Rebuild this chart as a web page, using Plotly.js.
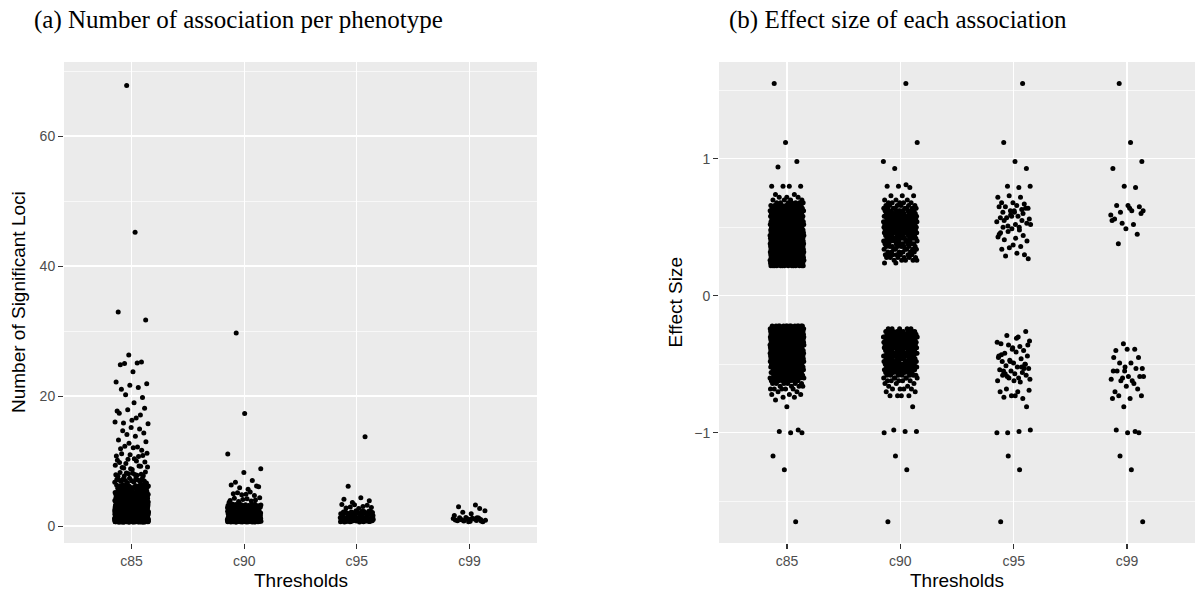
<!DOCTYPE html>
<html>
<head>
<meta charset="utf-8">
<script src="https://cdn.plot.ly/plotly-3.0.1.min.js"></script>
<style>html,body{margin:0;padding:0;background:#fff;}#chart{width:1195px;height:594px;}</style>
</head>
<body>
<div id="chart"></div>
<script>
// ---------- DATA ----------
const thresholds = ['c85', 'c90', 'c95', 'c99'];

// (a) number of significant loci per phenotype: loci value and how many phenotypes have it
const lociC85 = [1, 2, 3, 4, 5, 6, 7, 8, 9, 10, 11, 12, 13, 14, 15, 16, 17, 18, 19, 20, 21, 22, 24, 25, 26, 32, 33, 45, 68];
const countC85 = [330, 170, 105, 70, 45, 30, 16, 12, 8, 7, 6, 5, 3, 3, 3, 4, 3, 3, 1, 2, 2, 3, 1, 4, 1, 1, 1, 1, 1];
const lociC90 = [1, 2, 3, 4, 5, 6, 7, 8, 9, 11, 17, 30];
const countC90 = [150, 80, 45, 9, 6, 5, 2, 1, 1, 1, 1, 1];
const lociC95 = [1, 2, 3, 4, 6, 14];
const countC95 = [60, 28, 8, 4, 1, 1];
const lociC99 = [1, 2, 3];
const countC99 = [20, 4, 3];

// (b) effect size of each association: effect value and number of associations with it
const effC85 = [1.55, 1.12, 0.98, 0.94, 0.80, 0.74, 0.72, 0.70, 0.68, 0.66, 0.64, 0.62, 0.60, 0.58, 0.56, 0.54, 0.52, 0.50, 0.48, 0.46, 0.44, 0.42, 0.40, 0.38, 0.36, 0.34, 0.32, 0.30, 0.28, 0.26, 0.24, 0.22,
  -0.22, -0.24, -0.26, -0.28, -0.30, -0.32, -0.34, -0.36, -0.38, -0.40, -0.42, -0.44, -0.46, -0.48, -0.50, -0.52, -0.54, -0.56, -0.58, -0.60, -0.62, -0.64, -0.66, -0.68, -0.70, -0.72, -0.74, -0.76, -0.81, -0.98, -0.99, -1.00, -1.17, -1.27, -1.65];
const cntC85 = [1, 1, 1, 1, 4, 2, 3, 4, 7, 9, 10, 12, 14, 15, 16, 18, 20, 20, 22, 22, 24, 26, 26, 28, 28, 30, 30, 30, 28, 26, 22, 14,
  14, 24, 28, 30, 30, 30, 28, 28, 26, 26, 24, 22, 22, 20, 18, 16, 15, 14, 12, 10, 8, 6, 4, 5, 2, 3, 2, 1, 1, 1, 1, 2, 1, 1, 1];
const effC90 = [1.55, 1.12, 0.98, 0.93, 0.81, 0.80, 0.79, 0.73, 0.70, 0.68, 0.66, 0.64, 0.62, 0.60, 0.58, 0.56, 0.54, 0.52, 0.50, 0.48, 0.46, 0.44, 0.42, 0.40, 0.38, 0.36, 0.34, 0.32, 0.30, 0.28, 0.26, 0.24,
  -0.24, -0.26, -0.28, -0.30, -0.32, -0.34, -0.36, -0.38, -0.40, -0.42, -0.44, -0.46, -0.48, -0.50, -0.52, -0.54, -0.56, -0.58, -0.60, -0.62, -0.64, -0.66, -0.68, -0.70, -0.73, -0.81, -0.98, -0.99, -1.00, -1.17, -1.27, -1.65];
const cntC90 = [1, 1, 1, 1, 1, 2, 1, 3, 3, 5, 6, 8, 10, 11, 12, 12, 13, 13, 13, 12, 12, 11, 10, 9, 8, 8, 7, 6, 7, 6, 5, 2,
  5, 9, 10, 11, 11, 12, 12, 12, 12, 12, 12, 11, 11, 10, 10, 9, 8, 7, 6, 5, 3, 2, 4, 2, 4, 1, 1, 2, 1, 1, 1, 1];
const effC95 = [1.55, 1.12, 0.98, 0.93, 0.80, 0.79, 0.80, 0.72, 0.73, 0.72, 0.68, 0.68, 0.67, 0.65, 0.66, 0.64, 0.65, 0.62, 0.63, 0.61, 0.62, 0.64, 0.57, 0.58, 0.56, 0.57, 0.58, 0.60, 0.55, 0.52, 0.53, 0.51, 0.50, 0.52, 0.54, 0.47, 0.48, 0.46, 0.49, 0.44, 0.41, 0.42, 0.40, 0.43, 0.35, 0.36, 0.34, 0.37, 0.30, 0.29, 0.31, 0.27, 0.45, 0.59, 0.55, 0.50, 0.61,
  -0.26, -0.29, -0.30, -0.33, -0.34, -0.36, -0.37, -0.35, -0.39, -0.40, -0.42, -0.41, -0.44, -0.45, -0.47, -0.46, -0.48, -0.49, -0.50, -0.51, -0.52, -0.53, -0.54, -0.55, -0.56, -0.55, -0.57, -0.58, -0.59, -0.60, -0.61, -0.62, -0.60, -0.63, -0.43, -0.38, -0.53, -0.57, -0.31, -0.36, -0.44, -0.48, -0.52, -0.58, -0.62, -0.50,
  -0.68, -0.70, -0.69, -0.70, -0.73, -0.75, -0.74, -0.73, -0.81, -1.00, -0.99, -0.98, -1.00, -1.17, -1.27, -1.65];
const effC99 = [1.55, 1.12, 0.98, 0.93, 0.80, 0.79, 0.66, 0.66, 0.65, 0.61, 0.62, 0.62, 0.59, 0.53, 0.52, 0.56, 0.49, 0.45, 0.38, 0.64, 0.60, 0.55,
  -0.35, -0.39, -0.40, -0.39, -0.45, -0.49, -0.49, -0.53, -0.55, -0.55, -0.53, -0.55, -0.59, -0.59, -0.62, -0.62, -0.59, -0.61, -0.60, -0.64, -0.70, -0.66, -0.68, -0.73, -0.75, -0.73, -0.75, -0.81, -0.99, -0.98, -1.00, -1.00, -1.17, -1.27, -1.65, -0.45, -0.52];

// ---------- JITTER (deterministic Halton sequence, standing in for geom_jitter) ----------
const JW = 0.15, JH = 0.38;
function radInv(n, b) { let f = 1, r = 0; while (n > 0) { f /= b; r += f * (n % b); n = Math.floor(n / b); } return r; }
function jitterLeft(levels, counts, cat) {
  const xs = [], ys = [];
  let k = cat * 131 + 17;
  levels.forEach((lv, j) => {
    for (let c = 0; c < counts[j]; c++) {
      k++;
      xs.push(cat + (2 * radInv(k, 2) - 1) * JW);
      ys.push(lv + (2 * radInv(k, 3) - 1) * JH);
    }
  });
  return {xs, ys};
}
function jitterRight(values, counts, cat) {
  const xs = [], ys = [];
  let k = cat * 211 + 29;
  values.forEach((v, j) => {
    const n = counts ? counts[j] : 1;
    for (let c = 0; c < n; c++) {
      k++;
      xs.push(cat + (2 * radInv(k, 3) - 1) * JW);
      ys.push(v);
    }
  });
  return {xs, ys};
}

const leftSets = [[lociC85, countC85], [lociC90, countC90], [lociC95, countC95], [lociC99, countC99]];
const rightSets = [[effC85, cntC85], [effC90, cntC90], [effC95, null], [effC99, null]];

const marker = {color: '#000000', size: 5, line: {width: 0}};
const traces = [];
leftSets.forEach((s, i) => {
  const p = jitterLeft(s[0], s[1], i);
  traces.push({type: 'scatter', mode: 'markers', x: p.xs, y: p.ys, xaxis: 'x', yaxis: 'y', marker, hoverinfo: 'skip', showlegend: false});
});
rightSets.forEach((s, i) => {
  const p = jitterRight(s[0], s[1], i);
  traces.push({type: 'scatter', mode: 'markers', x: p.xs, y: p.ys, xaxis: 'x2', yaxis: 'y2', marker, hoverinfo: 'skip', showlegend: false});
});

// ---------- LAYOUT ----------
const W = 1195, H = 594;
const tickFont = {family: 'Liberation Sans, Arial, sans-serif', size: 14, color: '#4D4D4D'};
const xCommon = {
  tickmode: 'array', tickvals: [0, 1, 2, 3], ticktext: thresholds, range: [-0.6, 3.6],
  showgrid: true, gridcolor: '#FFFFFF', gridwidth: 1.3, zeroline: false, showline: false,
  ticks: 'outside', ticklen: 5, tickwidth: 1.1, tickcolor: '#333333', tickfont: tickFont, fixedrange: true
};
const yCommon = {
  showgrid: true, gridcolor: '#FFFFFF', gridwidth: 1.3, zeroline: false, showline: false,
  ticks: 'outside', ticklen: 5, tickwidth: 1.1, tickcolor: '#333333', tickfont: tickFont, fixedrange: true
};
const yDom = [1 - 543 / H, 1 - 62 / H];
const layout = {
  width: W, height: H,
  margin: {l: 0, r: 0, t: 0, b: 0},
  paper_bgcolor: '#FFFFFF', plot_bgcolor: '#EBEBEB',
  showlegend: false,
  xaxis: Object.assign({}, xCommon, {domain: [64 / W, 537 / W], anchor: 'y'}),
  yaxis: Object.assign({}, yCommon, {domain: yDom, anchor: 'x', range: [-2.6, 71.4], tickmode: 'linear', tick0: 0, dtick: 20,
    minor: {tickmode: 'linear', tick0: 10, dtick: 20, showgrid: true, gridcolor: '#FFFFFF', gridwidth: 0.65, ticks: ''}}),
  xaxis2: Object.assign({}, xCommon, {domain: [719 / W, 1], anchor: 'y2'}),
  yaxis2: Object.assign({}, yCommon, {domain: yDom, anchor: 'x2', range: [-1.805, 1.707], tickmode: 'linear', tick0: 0, dtick: 1,
    minor: {tickmode: 'linear', tick0: 0.5, dtick: 1, showgrid: true, gridcolor: '#FFFFFF', gridwidth: 0.65, ticks: ''}}),
  annotations: [
    {text: '(a) Number of association per phenotype', xref: 'paper', yref: 'paper', x: 238 / W, y: 1 - 20 / H,
      xanchor: 'center', yanchor: 'middle', showarrow: false, font: {family: 'Liberation Serif, Times New Roman, serif', size: 25, color: '#000'}},
    {text: '(b) Effect size of each association', xref: 'paper', yref: 'paper', x: 898 / W, y: 1 - 20 / H,
      xanchor: 'center', yanchor: 'middle', showarrow: false, font: {family: 'Liberation Serif, Times New Roman, serif', size: 25, color: '#000'}},
    {text: 'Thresholds', xref: 'paper', yref: 'paper', x: 300.5 / W, y: 1 - 580 / H,
      xanchor: 'center', yanchor: 'middle', showarrow: false, font: {family: 'Liberation Sans, Arial, sans-serif', size: 19, color: '#000'}},
    {text: 'Thresholds', xref: 'paper', yref: 'paper', x: 957 / W, y: 1 - 580 / H,
      xanchor: 'center', yanchor: 'middle', showarrow: false, font: {family: 'Liberation Sans, Arial, sans-serif', size: 19, color: '#000'}},
    {text: 'Number of Significant Loci', xref: 'paper', yref: 'paper', x: 18.5 / W, y: 1 - 302.5 / H, textangle: -90,
      xanchor: 'center', yanchor: 'middle', showarrow: false, font: {family: 'Liberation Sans, Arial, sans-serif', size: 19, color: '#000'}},
    {text: 'Effect Size', xref: 'paper', yref: 'paper', x: 675 / W, y: 1 - 302.5 / H, textangle: -90,
      xanchor: 'center', yanchor: 'middle', showarrow: false, font: {family: 'Liberation Sans, Arial, sans-serif', size: 19, color: '#000'}}
  ]
};

Plotly.newPlot('chart', traces, layout, {staticPlot: true, displayModeBar: false});
</script>
</body>
</html>
